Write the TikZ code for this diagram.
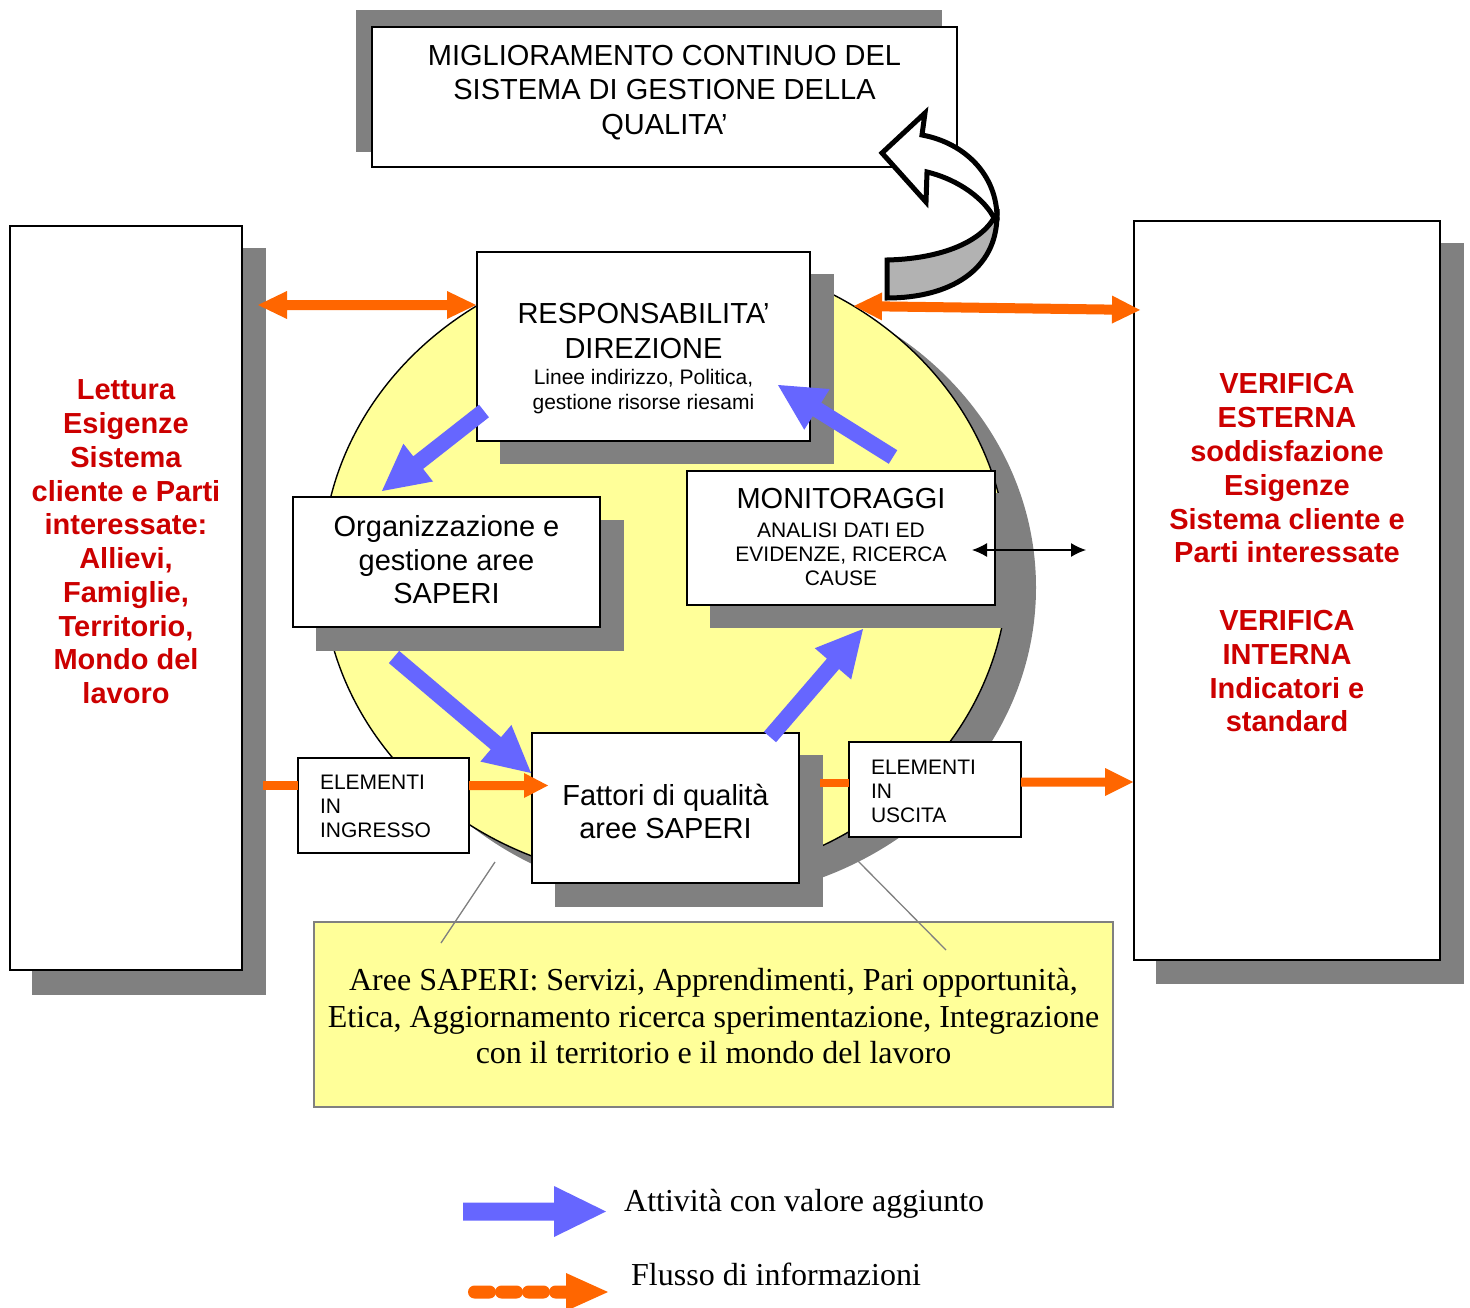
\documentclass[tikz,border=0pt]{standalone}
\usepackage{fontspec}
\setmainfont{Liberation Serif}
\newfontfamily\arial{Liberation Sans}
\usetikzlibrary{calc,arrows.meta}
\definecolor{shadowgray}{HTML}{808080}
\definecolor{ellyellow}{HTML}{FFFF99}
\definecolor{blockblue}{HTML}{6666FF}
\definecolor{infoorange}{HTML}{FF6600}
\definecolor{textred}{HTML}{CC0000}
\definecolor{arrowgray}{HTML}{B2B2B2}
% #1 colour, #2 from, #3 to, #4 half shaft, #5 half head, #6 head length
\newcommand{\blockarrow}[6]{%
  \coordinate (bahead) at ($(#3)!#6!(#2)$);
  \fill[#1] ($(#2)!#4!90:(#3)$) -- ($(bahead)!#4!-90:(#2)$) -- ($(bahead)!#5!-90:(#2)$)
    -- (#3) -- ($(bahead)!#5!90:(#2)$) -- ($(bahead)!#4!90:(#2)$) -- ($(#2)!#4!-90:(#3)$) -- cycle;}
\newcommand{\dblarrow}[6]{%
  \coordinate (dahA) at ($(#2)!#6!(#3)$);
  \coordinate (dahB) at ($(#3)!#6!(#2)$);
  \fill[#1] (#2) -- ($(dahA)!#5!90:(#3)$) -- ($(dahA)!#4!90:(#3)$) -- ($(dahB)!#4!-90:(#2)$)
    -- ($(dahB)!#5!-90:(#2)$) -- (#3) -- ($(dahB)!#5!90:(#2)$) -- ($(dahB)!#4!90:(#2)$)
    -- ($(dahA)!#4!-90:(#3)$) -- ($(dahA)!#5!-90:(#3)$) -- cycle;}
\tikzset{
  box/.style={draw=black, line width=1.2pt, fill=white, inner sep=0pt, outer sep=0pt},
  shadowbox/.style={fill=shadowgray},
  txt/.style={inner sep=0pt, outer sep=0pt, align=center, anchor=north},
  big/.style={font=\arial\fontsize{29}{34}\selectfont},
  small/.style={font=\arial\fontsize{21}{24}\selectfont},
  redtxt/.style={text=textred, font=\arial\bfseries\fontsize{29}{33.75}\selectfont},
  serif/.style={font=\fontsize{32}{36.5}\selectfont},
  callout/.style={draw=shadowgray, line width=1.3pt},
}
\begin{document}
\begin{tikzpicture}[x=1pt,y=-1pt]
\useasboundingbox (0,0) rectangle (1470,1308);

% side boxes
\fill[shadowbox] (32,248) rectangle (266,995);
\node[box, minimum width=232pt, minimum height=744pt] (lbox) at (126,598) {};
\fill[shadowbox] (1156,243) rectangle (1464,984);
\node[box, minimum width=306pt, minimum height=739pt] (rbox) at (1287,590.5) {};

% ellipse
\fill[shadowgray] (693,587.5) ellipse [x radius=343pt, y radius=313pt];
\filldraw[fill=ellyellow, draw=black, line width=1.4pt] (665,567.5) ellipse [x radius=343pt, y radius=313pt];

% top box
\fill[shadowbox] (356,10) rectangle (942,152);
\node[box, minimum width=585pt, minimum height=140pt] (topbox) at (664.5,97) {};
\node[txt, big, font=\arial\fontsize{29}{34.5}\selectfont] (toptxt) at (664.5,42.2)
  {\rule{0pt}{0.8em}MIGLIORAMENTO CONTINUO DEL\\SISTEMA DI GESTIONE DELLA\\QUALITA’};

% responsabilita
\fill[shadowbox] (500,274) rectangle (834,464);
\node[box, minimum width=333pt, minimum height=189pt] (resp) at (643.5,346.5) {};
\node[txt, font=\arial\fontsize{29}{35}\selectfont] (resptxt) at (643.5,300.7)
  {\rule{0pt}{0.8em}RESPONSABILITA’\\DIREZIONE};
\node[txt, font=\arial\fontsize{21}{24.5}\selectfont] (respsub) at (643.5,367.7)
  {\rule{0pt}{0.8em}Linee indirizzo, Politica,\\gestione risorse riesami};

% organizzazione
\fill[shadowbox] (316,520) rectangle (624,651);
\node[box, minimum width=307pt, minimum height=130pt] (org) at (446.5,562) {};
\node[txt, font=\arial\fontsize{29}{33.5}\selectfont] (orgtxt) at (446.5,513.7)
  {\rule{0pt}{0.8em}Organizzazione e\\gestione aree\\SAPERI};

% monitoraggi
\fill[shadowbox] (710,493) rectangle (1019,628);
\node[box, minimum width=308pt, minimum height=134pt] (mon) at (841,538) {};
\node[txt, big] (montxt) at (841,485.7) {\rule{0pt}{0.8em}MONITORAGGI};
\node[txt, small] (monsub) at (841,520.2)
  {\rule{0pt}{0.8em}ANALISI DATI ED\\EVIDENZE, RICERCA\\CAUSE};

% fattori
\fill[shadowbox] (555,755) rectangle (823,907);
\node[box, minimum width=267pt, minimum height=150pt] (fatt) at (665.5,808) {};
\node[txt, font=\arial\fontsize{29}{33}\selectfont] (fatttxt) at (665.5,782.7)
  {\rule{0pt}{0.8em}Fattori di qualità\\aree SAPERI};

% elementi
\node[box, minimum width=171pt, minimum height=95pt] (ingr) at (383.5,805.5) {};
\node[txt, small, align=left, anchor=north west] (ingrtxt) at (320,772.7)
  {\rule{0pt}{0.8em}ELEMENTI\\IN\\INGRESSO};
\node[box, minimum width=172pt, minimum height=95pt] (usc) at (935,789.5) {};
\node[txt, small, align=left, anchor=north west] (usctxt) at (871,757.7)
  {\rule{0pt}{0.8em}ELEMENTI\\IN\\USCITA};

% side texts
\node[txt, redtxt] (ltxt) at (126,376.7)
  {\rule{0pt}{0.8em}Lettura\\Esigenze\\Sistema\\cliente e Parti\\interessate:\\Allievi,\\Famiglie,\\Territorio,\\Mondo del\\lavoro};
\node[txt, redtxt, font=\arial\bfseries\fontsize{29}{33.8}\selectfont] (rtxt) at (1287,370.7)
  {\rule{0pt}{0.8em}VERIFICA\\ESTERNA\\soddisfazione\\Esigenze\\Sistema cliente e\\Parti interessate\\[33.8pt]VERIFICA\\INTERNA\\Indicatori e\\standard};

% note box
\node[draw=shadowgray, line width=1.2pt, fill=ellyellow, inner sep=0pt, minimum width=799pt, minimum height=185pt] (note) at (713.5,1014.5) {};
\node[txt, serif] (notetxt) at (713.5,965)
  {\rule{0pt}{0.8em}Aree SAPERI: Servizi, Apprendimenti, Pari opportunità,\\Etica, Aggiornamento ricerca sperimentazione, Integrazione\\con il territorio e il mondo del lavoro};
\coordinate (cl1) at (495,862); \coordinate (cl2) at (441,943);
\coordinate (cr1) at (857,860); \coordinate (cr2) at (946,950);
\draw[callout] (cl1) -- (cl2);
\draw[callout] (cr1) -- (cr2);

% orange information flows
\coordinate (o1a) at (258,305); \coordinate (o1b) at (476,305);
\dblarrow{infoorange}{o1a}{o1b}{5pt}{14pt}{29pt}
\coordinate (o2a) at (854,306); \coordinate (o2b) at (1140,310);
\dblarrow{infoorange}{o2a}{o2b}{5pt}{14pt}{28pt}
\coordinate (oL1) at (263,785.5);
\draw[infoorange, line width=9pt] (oL1) -- (oL1 -| ingr.west);
\coordinate (oL4) at (548,785.5);
\coordinate (oL3) at (ingr.east |- oL4);
\blockarrow{infoorange}{oL3}{oL4}{4.5pt}{12.5pt}{24pt}
\coordinate (oR1) at (820,783);
\draw[infoorange, line width=8.5pt] (oR1) -- (oR1 -| usc.west);
\coordinate (oR4) at (1133,782);
\coordinate (oR3) at (usc.east |- oR4);
\blockarrow{infoorange}{oR3}{oR4}{4.5pt}{14pt}{28pt}

% blue activity arrows
\coordinate (b1s) at (484,411); \coordinate (b1e) at (382,491);
\coordinate (b2s) at (394,657); \coordinate (b2e) at (531,773);
\coordinate (b3s) at (770,737); \coordinate (b3e) at (863,629);
\coordinate (b4s) at (893,457); \coordinate (b4e) at (778,385);
\blockarrow{blockblue}{b1s}{b1e}{8pt}{24pt}{46pt}
\blockarrow{blockblue}{b2s}{b2e}{8pt}{24pt}{46pt}
\blockarrow{blockblue}{b3s}{b3e}{8pt}{24pt}{46pt}
\blockarrow{blockblue}{b4s}{b4e}{8pt}{24pt}{46pt}

% thin black double arrow
\coordinate (k1) at (972,550); \coordinate (k2) at (1086,550);
\draw[line width=1.3pt, {Latex[length=15pt,width=14pt]}-{Latex[length=15pt,width=14pt]}] (k1) -- (k2);

% curved arrow
\filldraw[fill=arrowgray, draw=black, line width=5pt, line join=miter]
  (997,215) .. controls (997,270) and (950,298) .. (887,298) -- (887,260)
  .. controls (935,259) and (978,245) .. (994,218) -- cycle;
\filldraw[fill=white, draw=black, line width=5pt, line join=miter, miter limit=4]
  (882,153) -- (925,113) -- (922,135) .. controls (965,143) and (997,175) .. (997,218)
  -- (994,218) .. controls (985,200) and (960,180) .. (927,172) -- (926,202) -- cycle;

% legend
\coordinate (lg1) at (463,1211.5); \coordinate (lg2) at (606,1211.5);
\blockarrow{blockblue}{lg1}{lg2}{9pt}{25.5pt}{52pt}
\node[serif, inner sep=0pt, anchor=base west] (lgtxt1) at (624,1211.6) {Attività con valore aggiunto};
\foreach \xa in {468,495,522,549}
  \fill[infoorange, rounded corners=6.5pt] (\xa,1285.5) rectangle ({\xa+28},1298.5);
\fill[infoorange] (566,1273) -- (608,1292) -- (566,1311) -- cycle;
\node[serif, inner sep=0pt, anchor=base west] (lgtxt2) at (631,1285.6) {Flusso di informazioni};
\end{tikzpicture}
\end{document}
